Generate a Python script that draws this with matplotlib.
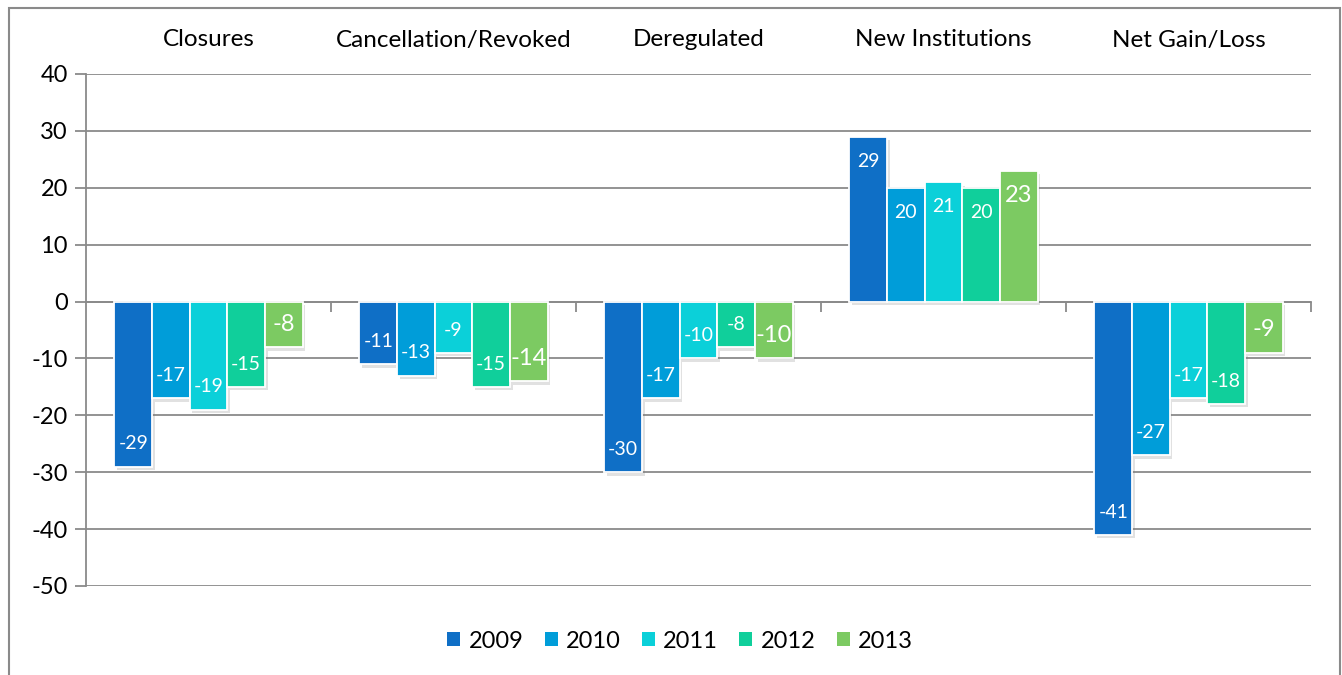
import numpy as np
import matplotlib.pyplot as plt
import matplotlib.patheffects as pe
from matplotlib.patches import Rectangle, Patch

plt.rcParams['font.family'] = ['Lato', 'DejaVu Sans']
plt.rcParams['axes.unicode_minus'] = False

categories = ['Closures', 'Cancellation/Revoked', 'Deregulated', 'New Institutions', 'Net Gain/Loss']
years = ['2009', '2010', '2011', '2012', '2013']
v2009 = [-29, -11, -30, 29, -41]
v2010 = [-17, -13, -17, 20, -27]
v2011 = [-19, -9, -10, 21, -17]
v2012 = [-15, -15, -8, 20, -18]
v2013 = [-8, -14, -10, 23, -9]
series = [v2009, v2010, v2011, v2012, v2013]
colors = ['#0F6FC6', '#009DD9', '#0BD0D9', '#10CF9B', '#7CCA62']

fig = plt.figure(figsize=(13.42, 6.75), dpi=100)
fig.patches.append(Rectangle((9 / 1342, -0.1), (1340 - 9) / 1342, 1.1 - 8 / 675,
                             transform=fig.transFigure, fill=False,
                             edgecolor='#8a8a8a', linewidth=1.5))
ax = fig.add_axes([86 / 1342, 1 - 586 / 675, (1311 - 86) / 1342, (586 - 74) / 675])

x = np.arange(len(categories))
w = 0.1535
shadow = [pe.SimplePatchShadow(offset=(2, -2.5), shadow_rgbFace='#777777', alpha=0.22), pe.Normal()]
for i, (vals, col, yr) in enumerate(zip(series, colors, years)):
    pos = x + (i - 2) * w
    bars = ax.bar(pos, vals, width=w, color=col, edgecolor='white', linewidth=1.3, zorder=3)
    for b in bars:
        b.set_path_effects(shadow)
    fs = 17 if i == 4 else 14
    for px, v in zip(pos, vals):
        off = -4.3 if v > 0 else 4.0
        ax.text(px, v + off, str(v), color='white', ha='center', va='center',
                fontsize=fs, zorder=4)

ax.set_xlim(-0.5, 4.5)
ax.set_ylim(-50, 40)
ax.set_yticks(np.arange(-50, 41, 10))
ax.tick_params(axis='y', labelsize=17, length=8, width=1.3, color='#8a8a8a', pad=5)
ax.yaxis.grid(True, color='#8a8a8a', linewidth=1.3, zorder=0)
ax.set_axisbelow(True)

ax.spines['top'].set_visible(False)
ax.spines['right'].set_visible(False)
ax.spines['left'].set_color('#8a8a8a')
ax.spines['left'].set_linewidth(1.3)
ax.spines['bottom'].set_position(('data', 0))
ax.spines['bottom'].set_color('#8a8a8a')
ax.spines['bottom'].set_linewidth(1.3)
ax.set_xticks(np.arange(0.5, 4.6, 1))
ax.set_xticklabels([])
ax.tick_params(axis='x', length=7, width=1.3, color='#8a8a8a', direction='out')

for i, c in enumerate(categories):
    ax.text(i, 1 + (74 - 40) / (586 - 74), c, ha='center', va='center', fontsize=17.5,
            transform=ax.get_xaxis_transform())

handles = [Patch(facecolor=c, edgecolor='none') for c in colors]
ax.legend(handles, years, loc='center', bbox_to_anchor=(0.485, -(641 - 586) / (586 - 74)), ncol=5,
          frameon=False, fontsize=17, handlelength=0.55, handleheight=0.55,
          handletextpad=0.35, columnspacing=0.9)

fig.savefig('out.png', dpi=100)
